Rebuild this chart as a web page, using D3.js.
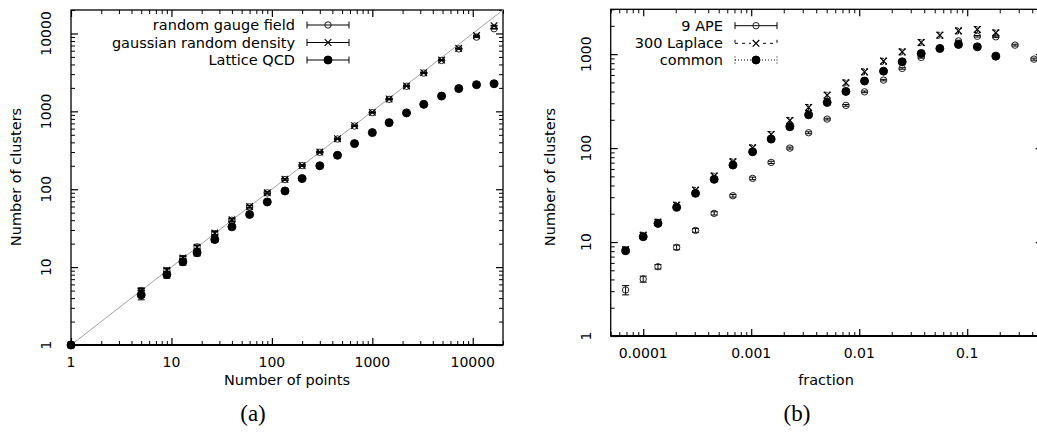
<!DOCTYPE html>
<html>
<head>
<meta charset="utf-8">
<script src="https://cdn.jsdelivr.net/npm/d3@7"></script>
<style>
  body { margin: 0; background: #fff; }
  svg text { font-family: "DejaVu Sans", sans-serif; fill: #000; }
</style>
</head>
<body>
<div id="chart"></div>
<script>
// ---- panel (a) data ----
var points = [1, 5, 9, 13, 18, 27, 40, 60, 90, 135, 200, 300, 450, 665, 1000, 1470, 2190, 3250, 4890, 7250, 10900, 16300];
var gaugeField = [1, 5, 9, 12.9, 18.2, 27, 40, 59.3, 89.7, 133, 201, 298, 441, 648, 962, 1425, 2100, 3100, 4500, 6330, 8970, 11500];
var gaugeErr = [0, 0.4, 0.6, 0.8, 1, 1.3, 1.5, 2, 2.5, 3, 4, 5, 6, 8, 10, 14, 20, 25, 35, 50, 80, 120];
var gaussDensity = [1, 4.9, 9.1, 13.1, 18, 27.4, 40.5, 60, 90, 134, 202, 300, 445, 655, 970, 1440, 2120, 3130, 4560, 6450, 9400, 12600];
var gaussErr = [0, 0.4, 0.6, 0.8, 1, 1.3, 1.5, 2, 2.5, 3, 4, 5, 6, 8, 10, 14, 20, 25, 35, 50, 80, 120];
var latticeQCD = [1, 4.4, 8, 11.7, 15.3, 22.6, 32.9, 47.5, 68.7, 95, 137, 200, 273, 385, 533, 716, 955, 1230, 1570, 1960, 2200, 2260];
var latticeErr = [0, 0.6, 0.8, 1.1, 1.4, 1.8, 2, 2.5, 3, 3.5, 4, 5, 6, 8, 10, 12, 15, 18, 22, 28, 32, 35];

// ---- panel (b) data ----
var fraction = [6.87e-5, 1.0e-4, 1.37e-4, 2.04e-4, 3.05e-4, 4.54e-4, 6.77e-4, 1.03e-3, 1.53e-3, 2.28e-3, 3.40e-3, 5.05e-3, 7.53e-3, 0.0112, 0.0168, 0.025, 0.0375, 0.0558, 0.083, 0.124, 0.184, 0.277, 0.415];
var ape9 = [3.09, 4.04, 5.46, 8.78, 13.3, 20.2, 31.1, 47.6, 70.4, 100, 145.6, 203.6, 284.7, 397, 529, 704, 922, 1149, 1382, 1550, 1528, 1247, 885];
var ape9Err = [0.35, 0.3, 0.3, 0.5, 0.6, 0.8, 1, 1.5, 2, 2.5, 3.5, 4.5, 6, 8, 10, 13, 16, 20, 25, 28, 30, 28, 22];
var laplace300 = [8.3, 11.8, 16.3, 24.7, 35.7, 50.4, 71.5, 100.7, 140, 197, 271, 366, 495, 649, 843, 1058, 1331, 1593, 1770, 1832, 1686];
var laplaceErr = [0.6, 0.9, 1.2, 1.8, 2.6, 3.7, 5.2, 7.3, 10, 14, 20, 27, 36, 47, 61, 77, 97, 116, 129, 134, 123];
var common = [8.08, 11.4, 15.8, 23.4, 33, 46.5, 66, 91.3, 124.7, 168.5, 226, 306, 401, 517, 659, 828, 1016, 1149, 1268, 1196, 952];
var commonErr = [0.3, 0.4, 0.5, 0.7, 0.9, 1.2, 1.5, 2, 2.5, 3, 4, 5, 6, 8, 10, 12, 14, 16, 18, 17, 14];

var decadesA = [1, 10, 100, 1000, 10000];
var decadesBx = [0.0001, 0.001, 0.01, 0.1];
var decadesBy = [1, 10, 100, 1000];

var W = 1037, H = 432;
var svg = d3.select("#chart").append("svg")
    .attr("width", W)
    .attr("height", H);

function minorTicks(scale) {
  var d = scale.domain();
  return scale.ticks(30).filter(function(v) {
    var m = v / Math.pow(10, Math.floor(Math.log10(v) + 1e-9));
    return Math.abs(m - 1) > 1e-6 && v >= d[0] && v <= d[1];
  });
}

// framed log-log box, ticks pointing inward on all four sides
function drawFrame(x, y, xMajor, yMajor, fmtX, fmtY) {
  var x0 = x.range()[0], x1 = x.range()[1];
  var y0 = y.range()[0], y1 = y.range()[1];
  var g = svg.append("g");

  var sides = [
    {axis: d3.axisBottom, scale: x, tr: "translate(0," + y0 + ")", major: xMajor},
    {axis: d3.axisTop, scale: x, tr: "translate(0," + y1 + ")", major: xMajor},
    {axis: d3.axisLeft, scale: y, tr: "translate(" + x0 + ",0)", major: yMajor},
    {axis: d3.axisRight, scale: y, tr: "translate(" + x1 + ",0)", major: yMajor}
  ];
  sides.forEach(function(s) {
    g.append("g").attr("transform", s.tr)
      .call(s.axis(s.scale).tickValues(minorTicks(s.scale)).tickSize(-4).tickFormat(""))
      .call(function(a) { a.select(".domain").remove(); a.selectAll("text").remove(); a.selectAll("line").attr("stroke", "#000").attr("stroke-width", 1); });
    g.append("g").attr("transform", s.tr)
      .call(s.axis(s.scale).tickValues(s.major).tickSize(-7).tickFormat(""))
      .call(function(a) { a.select(".domain").remove(); a.selectAll("text").remove(); a.selectAll("line").attr("stroke", "#000").attr("stroke-width", 1.2); });
  });

  g.append("rect")
    .attr("x", x0).attr("y", y1)
    .attr("width", x1 - x0).attr("height", y0 - y1)
    .attr("fill", "none").attr("stroke", "#000").attr("stroke-width", 1.3);
  g.append("line")
    .attr("x1", x0).attr("x2", x1).attr("y1", y0).attr("y2", y0)
    .attr("stroke", "#000").attr("stroke-width", 2.2);

  // tick labels
  g.selectAll("text.xl").data(xMajor).enter().append("text")
    .attr("class", "xl")
    .attr("x", function(d) { return x(d); })
    .attr("y", y0 + 22)
    .attr("text-anchor", "middle")
    .style("font-size", "14px")
    .text(fmtX);
  // y labels are written vertically, like the original
  g.selectAll("text.yl").data(yMajor).enter().append("text")
    .attr("class", "yl")
    .attr("x", x0 - 20)
    .attr("y", function(d) { return y(d); })
    .attr("transform", function(d) { return "rotate(-90," + (x0 - 20) + "," + y(d) + ")"; })
    .attr("text-anchor", "middle")
    .style("font-size", "14px")
    .text(fmtY);
}

function errorBars(g, x, y, xs, ys, es, dash) {
  g.selectAll(null).data(ys).enter().append("path")
    .attr("d", function(d, i) {
      var cx = x(xs[i]), lo = y(Math.max(d - es[i], 1e-9)), hi = y(d + es[i]);
      return "M" + cx + "," + lo + "V" + hi +
             "M" + (cx - 3.5) + "," + lo + "H" + (cx + 3.5) +
             "M" + (cx - 3.5) + "," + hi + "H" + (cx + 3.5);
    })
    .attr("fill", "none").attr("stroke", "#000").attr("stroke-width", 1)
    .attr("stroke-dasharray", dash || null);
}

function markers(g, x, y, xs, ys, kind) {
  var sel = g.selectAll(null).data(ys).enter();
  if (kind === "cross") {
    sel.append("path")
      .attr("d", function(d, i) {
        var cx = x(xs[i]), cy = y(d), r = 3.3;
        return "M" + (cx - r) + "," + (cy - r) + "L" + (cx + r) + "," + (cy + r) +
               "M" + (cx - r) + "," + (cy + r) + "L" + (cx + r) + "," + (cy - r);
      })
      .attr("stroke", "#000").attr("stroke-width", 1.2).attr("fill", "none");
  } else {
    sel.append("circle")
      .attr("cx", function(d, i) { return x(xs[i]); })
      .attr("cy", function(d) { return y(d); })
      .attr("r", kind === "filled" ? 4 : 3.2)
      .attr("fill", kind === "filled" ? "#000" : "none")
      .attr("stroke", kind === "filled" ? "#000" : "#222")
      .attr("stroke-width", 1);
  }
}

function legend(right, rows) {
  var g = svg.append("g");
  rows.forEach(function(r) {
    var cy = r.y;
    g.append("text")
      .attr("x", right).attr("y", cy).attr("dy", "0.35em")
      .attr("text-anchor", "end")
      .style("font-size", "14.5px")
      .text(r.label);
    var a = right + 12, b = right + 54, m = (a + b) / 2;
    g.append("path")
      .attr("d", "M" + a + "," + cy + "H" + b +
                 "M" + a + "," + (cy - 3.5) + "V" + (cy + 3.5) +
                 "M" + b + "," + (cy - 3.5) + "V" + (cy + 3.5))
      .attr("fill", "none").attr("stroke", "#000").attr("stroke-width", 1)
      .attr("stroke-dasharray", r.dash || null);
    var xs = d3.scaleLinear().domain([0, 1]).range([m, m + 1]);
    var ys = d3.scaleLinear().domain([0, 1]).range([cy, cy + 1]);
    if (r.dash) g.append("rect").attr("x", m - 5).attr("y", cy - 4).attr("width", 10).attr("height", 8).attr("fill", "#fff");
    markers(g, xs, ys, [0], [0], r.kind);
  });
}

// ---------------- panel (a) ----------------
var xa = d3.scaleLog().domain([1, 20000]).range([71, 503]);
var ya = d3.scaleLog().domain([1, 20000]).range([345, 10]);
drawFrame(xa, ya, decadesA, decadesA, d3.format("d"), d3.format("d"));

var ga = svg.append("g");
ga.append("path")
  .datum([1, 20000])
  .attr("d", d3.line().x(function(d) { return xa(d); }).y(function(d) { return ya(d); }))
  .attr("stroke", "#a0a0a0").attr("stroke-width", 1).attr("fill", "none");

errorBars(ga, xa, ya, points, gaugeField, gaugeErr);
markers(ga, xa, ya, points, gaugeField, "open");
errorBars(ga, xa, ya, points, gaussDensity, gaussErr);
markers(ga, xa, ya, points, gaussDensity, "cross");
errorBars(ga, xa, ya, points, latticeQCD, latticeErr);
markers(ga, xa, ya, points, latticeQCD, "filled");

legend(295, [
  {label: "random gauge field", kind: "open", y: 25},
  {label: "gaussian random density", kind: "cross", y: 42.5},
  {label: "Lattice QCD", kind: "filled", y: 60}
]);

svg.append("text").attr("transform", "translate(21,177) rotate(-90)")
  .attr("text-anchor", "middle").style("font-size", "14.5px").text("Number of clusters");
svg.append("text").attr("x", 287).attr("y", 385)
  .attr("text-anchor", "middle").style("font-size", "14.5px").text("Number of points");
svg.append("text").attr("x", 253).attr("y", 421)
  .attr("text-anchor", "middle").style("font-family", "'Liberation Serif', serif").style("font-size", "23px").text("(a)");

// ---------------- panel (b) ----------------
var xb = d3.scaleLog().domain([5e-5, 0.5]).range([610.7, 1042.7]);
var yb = d3.scaleLog().domain([1, 3000]).range([336, 9.3]);
drawFrame(xb, yb, decadesBx, decadesBy, function(d) { return String(d); }, d3.format("d"));

var gb = svg.append("g");
errorBars(gb, xb, yb, fraction, ape9, ape9Err);
markers(gb, xb, yb, fraction, ape9, "open");
errorBars(gb, xb, yb, fraction.slice(0, laplace300.length), laplace300, laplaceErr, "3,2");
markers(gb, xb, yb, fraction.slice(0, laplace300.length), laplace300, "cross");
errorBars(gb, xb, yb, fraction.slice(0, common.length), common, commonErr, "1,1.5");
markers(gb, xb, yb, fraction.slice(0, common.length), common, "filled");

legend(723, [
  {label: "9 APE", kind: "open", y: 25.7},
  {label: "300 Laplace", kind: "cross", y: 43.3, dash: "3,4"},
  {label: "common", kind: "filled", y: 60, dash: "1,2"}
]);

svg.append("text").attr("transform", "translate(555,177) rotate(-90)")
  .attr("text-anchor", "middle").style("font-size", "14.5px").text("Number of clusters");
svg.append("text").attr("x", 826).attr("y", 385)
  .attr("text-anchor", "middle").style("font-size", "14.5px").text("fraction");
svg.append("text").attr("x", 797).attr("y", 421)
  .attr("text-anchor", "middle").style("font-family", "'Liberation Serif', serif").style("font-size", "23px").text("(b)");
</script>
</body>
</html>
